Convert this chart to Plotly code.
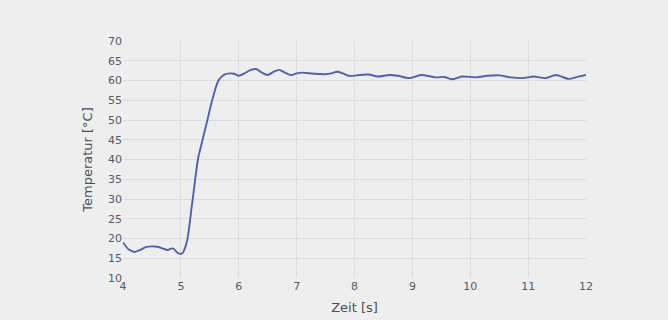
import plotly.graph_objects as go

zeit = [4.0, 4.1, 4.2, 4.3, 4.4, 4.5, 4.6, 4.7, 4.77, 4.86, 4.95, 5.02, 5.1, 5.2, 5.3, 5.35, 5.45, 5.55, 5.65, 5.75,
        5.85, 5.92, 6.0, 6.1, 6.2, 6.3, 6.4, 6.5, 6.6, 6.7, 6.8, 6.9, 7.0, 7.1, 7.3, 7.5, 7.6, 7.7, 7.8, 7.9,
        8.1, 8.25, 8.4, 8.6, 8.75, 8.95, 9.15, 9.4, 9.55, 9.7, 9.85, 10.1, 10.3, 10.5, 10.7, 10.9, 11.1, 11.3,
        11.48, 11.7, 11.85, 12.0]
temperatur = [19.0, 17.2, 16.6, 17.1, 17.9, 18.0, 17.9, 17.4, 17.1, 17.5, 16.3, 16.2, 19.0, 29.5, 40.5, 43.5, 49.5, 55.5, 60.0, 61.5,
              61.8, 61.7, 61.2, 61.8, 62.6, 62.9, 62.0, 61.4, 62.2, 62.7, 62.0, 61.4, 61.8, 62.0, 61.7, 61.6, 61.8, 62.2, 61.8, 61.2,
              61.4, 61.5, 61.0, 61.4, 61.2, 60.6, 61.4, 60.8, 60.9, 60.3, 61.0, 60.8, 61.2, 61.3, 60.8, 60.6, 61.0, 60.6,
              61.4, 60.4, 60.9, 61.4]

fig = go.Figure(go.Scatter(x=zeit, y=temperatur, mode="lines",
                           line=dict(color="#4f60b4", width=1.9, shape="spline", smoothing=0.8)))

axis_common = dict(showgrid=True, gridcolor="#dcdde3", gridwidth=1, zeroline=False,
                   tickfont=dict(family="DejaVu Sans", size=11, color="#555b66"),
                   showline=False, ticks="", automargin=False)
fig.update_layout(
    width=668, height=320,
    margin=dict(l=123, r=82, t=41, b=42),
    paper_bgcolor="#eeeeee", plot_bgcolor="#eeeeee",
    showlegend=False,
    xaxis=dict(range=[4, 12], dtick=1, title=dict(text="Zeit [s]", font=dict(family="DejaVu Sans", size=13, color="#4a4f5a"), standoff=10), **axis_common),
    yaxis=dict(range=[10, 70], dtick=5, title=dict(text="Temperatur [°C]", font=dict(family="DejaVu Sans", size=13, color="#4a4f5a"), standoff=12), **axis_common),
)
fig.write_html("out.html")
